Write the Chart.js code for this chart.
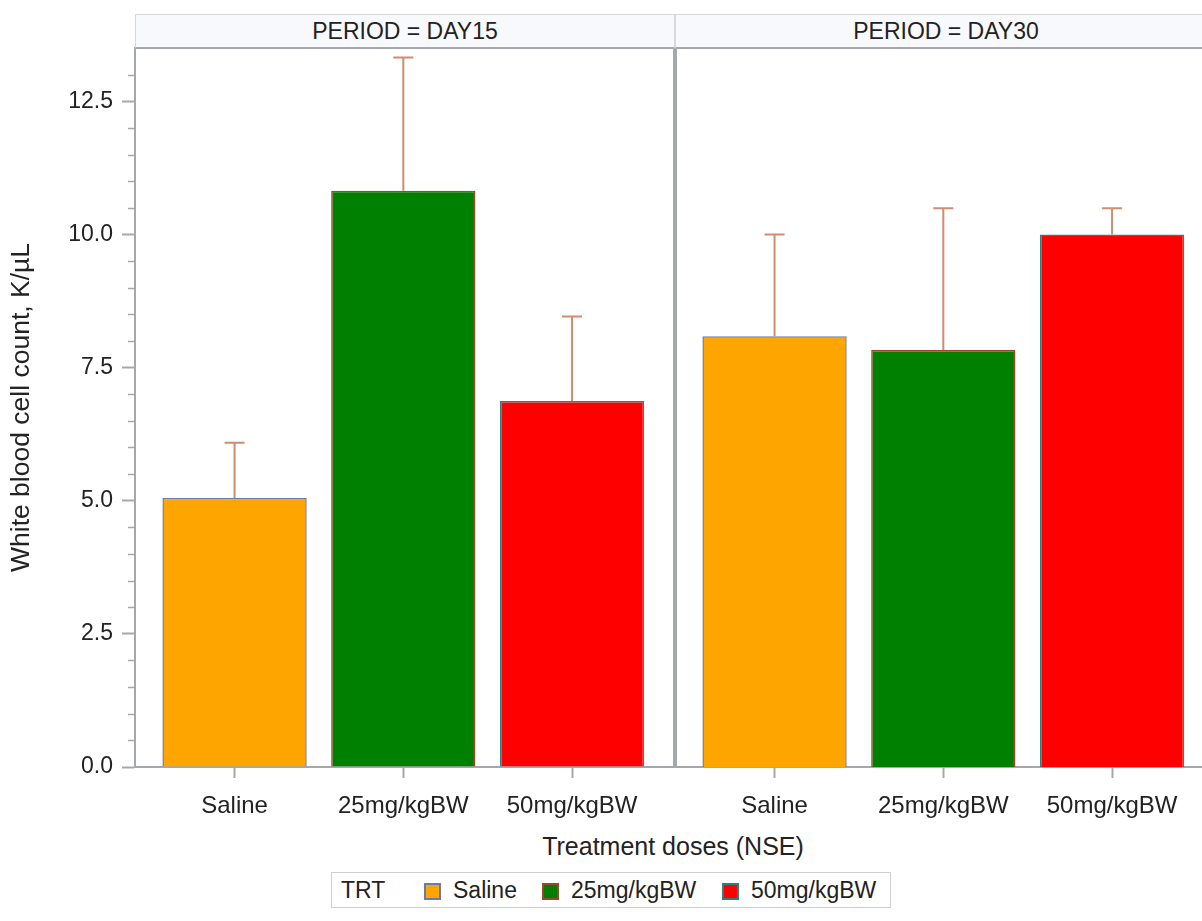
<!DOCTYPE html>
<html>
<head>
<meta charset="utf-8">
<script src="https://cdn.jsdelivr.net/npm/chart.js@4.4.1/dist/chart.umd.min.js"></script>
<style>
  body { margin: 0; width: 1202px; height: 921px; overflow: hidden; background: #fff; position: relative;
         font-family: "Liberation Sans", Arial, sans-serif; color: #222; }
  canvas { position: absolute; top: 0; }
  #c1 { left: 0; }
  #c2 { left: 675px; }
  .strip { position: absolute; top: 14px; height: 32px; background: #f8f9fd; border: 1px solid #d6d8dc;
           border-bottom: 2px solid #a4a8ac; box-sizing: content-box; text-align: center; font-size: 23px; line-height: 32px; }
  #xtitle { position: absolute; left: 135px; width: 1076px; top: 832px; text-align: center; font-size: 25px; }
  #legend { position: absolute; left: 331px; top: 872px; width: 558px; height: 34px; border: 1px solid #cfcfcf;
            font-size: 23px; line-height: 34px; white-space: nowrap; }
  #legend span { position: absolute; top: 0; }
  #legend i { position: absolute; top: 10px; width: 13px; height: 13px; border: 2px solid; }
</style>
</head>
<body>
<canvas id="c1" width="676" height="830"></canvas>
<canvas id="c2" width="541" height="830"></canvas>
<div class="strip" style="left:135px;width:538px">PERIOD = DAY15</div>
<div class="strip" style="left:675px;width:540px">PERIOD = DAY30</div>
<div id="xtitle">Treatment doses (NSE)</div>
<div id="legend">
  <span style="left:9px">TRT</span>
  <i style="left:92px;background:#ffa500;border-color:#6a7aae"></i><span style="left:121px">Saline</span>
  <i style="left:210px;background:#008000;border-color:#a0442c"></i><span style="left:239px">25mg/kgBW</span>
  <i style="left:390px;background:#ff0000;border-color:#2e8080"></i><span style="left:419px">50mg/kgBW</span>
</div>
<script>
// treatments and values
const doses = ['Saline', '25mg/kgBW', '50mg/kgBW']
const day15 = [5.05, 10.82, 6.87]
const day15Err = [1.04, 2.50, 1.59]
const day30 = [8.09, 7.83, 10.0]
const day30Err = [1.91, 2.66, 0.49]
const yTicks = [0, 2.5, 5, 7.5, 10, 12.5]

const fillColors = ['#ffa500', '#008000', '#ff0000']
const edgeColors = ['#6a7aae', '#a0442c', '#2e8080']
const axisGrey = '#a4a8ac'
const txt = '#222'

// upper error bars with caps
const errorBars = {
  id: 'errorBars',
  afterDatasetsDraw(chart) {
    const ctx = chart.ctx
    const y = chart.scales.y
    const ds = chart.data.datasets[0]
    chart.getDatasetMeta(0).data.forEach((bar, i) => {
      const top = y.getPixelForValue(ds.data[i].y + ds.errors[i])
      ctx.save()
      ctx.strokeStyle = '#d08c70'
      ctx.lineWidth = 2
      ctx.beginPath()
      ctx.moveTo(bar.x, bar.y)
      ctx.lineTo(bar.x, top)
      ctx.moveTo(bar.x - 10, top)
      ctx.lineTo(bar.x + 10, top)
      ctx.stroke()
      ctx.restore()
    })
  }
}

// short minor ticks on y, and the panel separator
const frame = {
  id: 'frame',
  afterDraw(chart, args, opts) {
    const ctx = chart.ctx
    const a = chart.chartArea
    ctx.save()
    ctx.strokeStyle = axisGrey
    if (opts.minor) {
      const y = chart.scales.y
      ctx.lineWidth = 1.5
      for (let v = 0.5; v < 13.5; v += 0.5) {
        if (Math.abs(v / 2.5 - Math.round(v / 2.5)) < 1e-6) continue
        const p = Math.round(y.getPixelForValue(v)) + 0.5
        ctx.beginPath()
        ctx.moveTo(a.left - 7, p)
        ctx.lineTo(a.left, p)
        ctx.stroke()
      }
    }
    ctx.lineWidth = 2
    ctx.beginPath()
    const x = opts.side === 'right' ? a.right - 1 : a.left + 1
    ctx.moveTo(x, a.top)
    ctx.lineTo(x, a.bottom)
    ctx.stroke()
    ctx.restore()
  }
}

function makePanel(id, values, errs, showY) {
  const data = values.map((v, i) => ({ x: i, y: v }))
  return new Chart(document.getElementById(id), {
    type: 'bar',
    data: {
      datasets: [{
        data: data,
        errors: errs,
        backgroundColor: fillColors,
        borderColor: edgeColors,
        borderWidth: 1.5,
        barPercentage: 0.855,
        categoryPercentage: 1
      }]
    },
    options: {
      responsive: false,
      animation: false,
      devicePixelRatio: 1,
      layout: { padding: { top: 48, right: 1, left: 0, bottom: 0 } },
      plugins: {
        legend: { display: false },
        tooltip: { enabled: false },
        frame: { side: showY ? 'right' : 'left', minor: showY }
      },
      scales: {
        x: {
          type: 'linear',
          offset: false,
          min: -0.59,
          max: 2.61,
          afterBuildTicks: s => { s.ticks = doses.map((d, i) => ({ value: i })) },
          afterFit: s => { s.height = 63 },
          ticks: {
            callback: v => doses[v],
            font: { family: 'Liberation Sans', size: 24 },
            color: txt,
            padding: 14,
            maxRotation: 0,
            autoSkip: false
          },
          grid: { offset: false, drawOnChartArea: false, tickLength: 11, tickColor: axisGrey, tickWidth: 2 },
          border: { color: axisGrey, width: 2 }
        },
        y: {
          display: showY,
          min: 0,
          max: 13.5,
          afterBuildTicks: s => { s.ticks = yTicks.map(v => ({ value: v })) },
          afterFit: s => { s.width = showY ? 135 : 0 },
          ticks: {
            callback: v => v.toFixed(1),
            font: { family: 'Liberation Sans', size: 23 },
            color: txt,
            padding: 9
          },
          grid: { drawOnChartArea: false, tickLength: 13, tickColor: axisGrey, tickWidth: 2 },
          border: { color: axisGrey, width: 2 },
          title: {
            display: true,
            text: 'White blood cell count, K/µL',
            font: { family: 'Liberation Sans', size: 26.5 },
            color: txt,
            padding: { top: 6, bottom: 0 }
          }
        }
      }
    },
    plugins: [errorBars, frame]
  })
}

makePanel('c1', day15, day15Err, true)
makePanel('c2', day30, day30Err, false)
</script>
</body>
</html>
